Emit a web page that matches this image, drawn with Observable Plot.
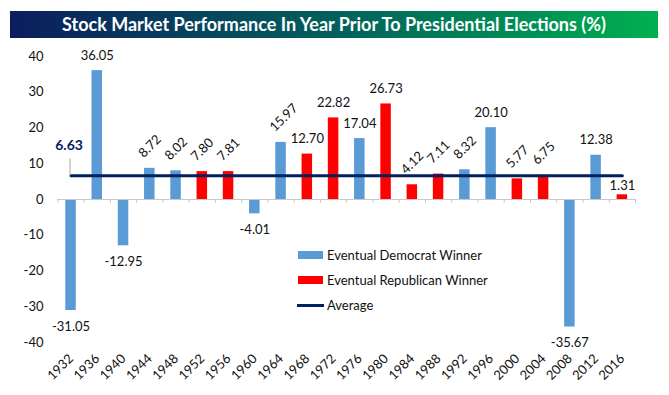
<!DOCTYPE html>
<html>
<head>
<meta charset="utf-8">
<script src="https://cdn.jsdelivr.net/npm/d3@7"></script>
<script src="https://cdn.jsdelivr.net/npm/@observablehq/plot@0.6"></script>
<style>
  html, body { margin: 0; padding: 0; background: #fff; }
  body { width: 669px; height: 395px; position: relative; overflow: hidden; font-family: Lato, "DejaVu Sans", sans-serif; }
  #title {
    position: absolute; left: 10px; top: 11px; width: 648px; height: 27px;
    background: linear-gradient(to right, #0c1d5e 0%, #02605c 50%, #00b050 100%);
    color: #fff; font-weight: bold; font-size: 18px; line-height: 27px; text-align: center;
  }
  #chart { position: absolute; left: 0; top: 38px; }
  #chart svg { display: block; }
  #legend { position: absolute; left: 297px; top: 246px; font-size: 13px; color: #111; }
  .li { position: relative; height: 25px; line-height: 18px; padding-left: 30px; }
  .sw { position: absolute; left: 1px; top: 5px; width: 25px; height: 8px; }
  .ln { position: absolute; left: 0; top: 7.5px; width: 27px; height: 3px; background: #002060; }
</style>
</head>
<body>
<div id="title">Stock Market Performance In Year Prior To Presidential Elections (%)</div>
<div id="chart"></div>
<div id="legend">
  <div class="li"><span class="sw" style="background:#5b9bd5"></span>Eventual Democrat Winner</div>
  <div class="li"><span class="sw" style="background:#ff0000"></span>Eventual Republican Winner</div>
  <div class="li"><span class="ln"></span>Average</div>
</div>
<script>
const years = ["1932","1936","1940","1944","1948","1952","1956","1960","1964","1968","1972","1976","1980","1984","1988","1992","1996","2000","2004","2008","2012","2016"];
const values = [-31.05, 36.05, -12.95, 8.72, 8.02, 7.80, 7.81, -4.01, 15.97, 12.70, 22.82, 17.04, 26.73, 4.12, 7.11, 8.32, 20.10, 5.77, 6.75, -35.67, 12.38, 1.31];
const winners = ["D","D","D","D","D","R","R","D","D","R","R","D","R","R","R","D","D","R","R","D","D","R"];
const average = 6.63;
const rotatedLabelYears = ["1944","1948","1952","1956","1964","1984","1988","1992","2000","2004"];
const yTicks = [-40, -30, -20, -10, 0, 10, 20, 30, 40];

const data = years.map((yr, i) => ({year: yr, value: values[i], winner: winners[i], rotated: rotatedLabelYears.includes(yr)}));

const W = 669, H = 357, mt = 18, mb = 53, ml = 57.4, mr = 34;
const step = (W - ml - mr) / years.length;
const unitsPerPx = 80 / (H - mt - mb);
const fmt = v => v.toFixed(2);

const chart = Plot.plot({
  width: W, height: H,
  marginTop: mt, marginBottom: mb, marginLeft: ml, marginRight: mr,
  style: {fontFamily: "Lato, 'DejaVu Sans', sans-serif", fontSize: "13px", color: "#111", background: "transparent"},
  x: {type: "band", domain: years, round: false, paddingInner: 0.6, paddingOuter: 0.3, label: null, tickSize: 0, tickPadding: 14, tickRotate: -45},
  y: {domain: [-40, 40], ticks: yTicks, tickFormat: d => String(d), label: null, tickSize: 0, tickPadding: 14.4},
  color: {domain: ["D", "R"], range: ["#5b9bd5", "#ff0000"]},
  marks: [
    Plot.barY(data, {x: "year", y: "value", fill: "winner"}),
    Plot.ruleY([0], {stroke: "#c8c8c8", strokeWidth: 1}),
    Plot.ruleX(years, {x: d => d, y1: 0, y2: -4 * unitsPerPx, dx: step / 2, stroke: "#c8c8c8"}),
    Plot.ruleX([years[0]], {x: d => d, y1: 0, y2: -4 * unitsPerPx, dx: -step / 2, stroke: "#c8c8c8"}),
    Plot.line(years, {x: d => d, y: () => average, stroke: "#002060", strokeWidth: 3}),
    Plot.ruleX([years[0]], {x: d => d, y1: average, y2: average + 17 * unitsPerPx, dx: -1, stroke: "#a6a6a6", strokeWidth: 1}),
    Plot.text([average], {x: () => years[0], y: d => d, text: d => fmt(d), dy: -30, dx: -2, fill: "#002060", fontWeight: "bold", fontSize: 14}),
    Plot.text(data.filter(d => d.value >= 2 && !d.rotated), {x: "year", y: "value", text: d => fmt(d.value), dy: -15, fill: "#111"}),
    Plot.text(data.filter(d => d.value >= 0 && d.value < 2), {x: "year", y: "value", text: d => fmt(d.value), dy: -9, fill: "#111"}),
    Plot.text(data.filter(d => d.value < 0), {x: "year", y: "value", text: d => fmt(d.value), dy: 16, fill: "#111"}),
    Plot.text(data.filter(d => d.rotated), {x: "year", y: "value", text: d => fmt(d.value), rotate: -45, textAnchor: "start", dx: -9, dy: -13, fill: "#111"})
  ]
});
document.getElementById("chart").appendChild(chart);
</script>
</body>
</html>
